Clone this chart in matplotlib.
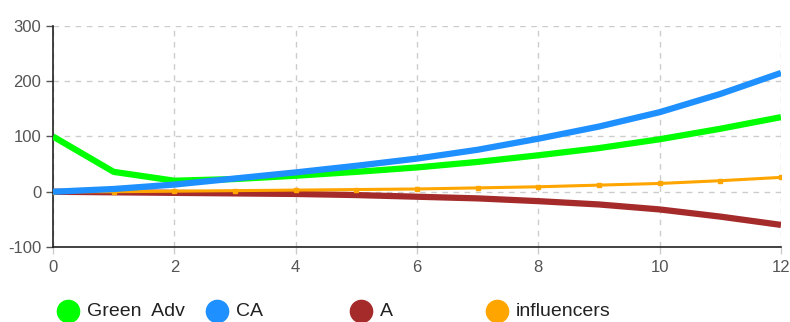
import matplotlib
matplotlib.use("Agg")
import matplotlib.pyplot as plt
from matplotlib.lines import Line2D

plt.rcParams['font.family'] = ['Liberation Sans', 'DejaVu Sans']
plt.rcParams['axes.unicode_minus'] = False

# data
months = [0, 1, 2, 3, 4, 5, 6, 7, 8, 9, 10, 11, 12]
green_adv = [100, 36, 20, 23, 29, 36, 44, 54, 66, 79, 95, 114, 135]
ca = [0, 5, 13, 24, 35, 47, 60, 76, 96, 118, 144, 177, 215]
a = [0, -1, -2, -3, -4, -6, -9, -12, -17, -23, -32, -45, -60]
influencers = [0, 0, 1, 2, 3, 4, 5, 7, 9, 12, 15, 20, 26]

labels = ['Green  Adv', 'CA', 'A', 'influencers']
colors = ['#00ff00', '#1e90ff', '#a52a2a', '#ffa500']

fig = plt.figure(figsize=(7.9, 3.22), dpi=100)
ax = fig.add_axes([0.0671, 0.2329, 0.9215, 0.6864])

ax.plot(months, a, color=colors[2], lw=4.5, solid_capstyle='butt', zorder=3)
ax.plot(months, influencers, color=colors[3], lw=2.2, marker='s', ms=3, zorder=4)
ax.plot(months, green_adv, color=colors[0], lw=4.5, solid_capstyle='butt', zorder=5)
ax.plot(months, ca, color=colors[1], lw=4.5, solid_capstyle='butt', zorder=6)

ax.set_xlim(0, 12)
ax.set_ylim(-100, 300)
ax.set_xticks(range(0, 13, 2))
ax.set_yticks([-100, 0, 100, 200, 300])
ax.grid(True, color='#cccccc', linestyle=(0, (4, 4)), lw=1)
ax.set_axisbelow(True)
for s in ['top', 'right']:
    ax.spines[s].set_visible(False)
for s in ['left', 'bottom']:
    ax.spines[s].set_color('#222222')
    ax.spines[s].set_linewidth(1.2)
ax.tick_params(labelsize=12, labelcolor='#555555', color='#555555', length=5, width=1)
ax.tick_params(axis='x', color='#cccccc', length=5, pad=4)

# legend: circle + label, placed like the reference
leg_x = [68, 217, 361, 497]
leg_y = 1 - 311 / 322
for lab, col, px in zip(labels, colors, leg_x):
    fig.add_artist(Line2D([px / 790], [leg_y], transform=fig.transFigure,
                          marker='o', ms=16, color=col, ls='none'))
    fig.text((px + 19) / 790, leg_y, lab, fontsize=14, color='#222222',
             va='center', ha='left')

fig.savefig('out.png', dpi=100)
